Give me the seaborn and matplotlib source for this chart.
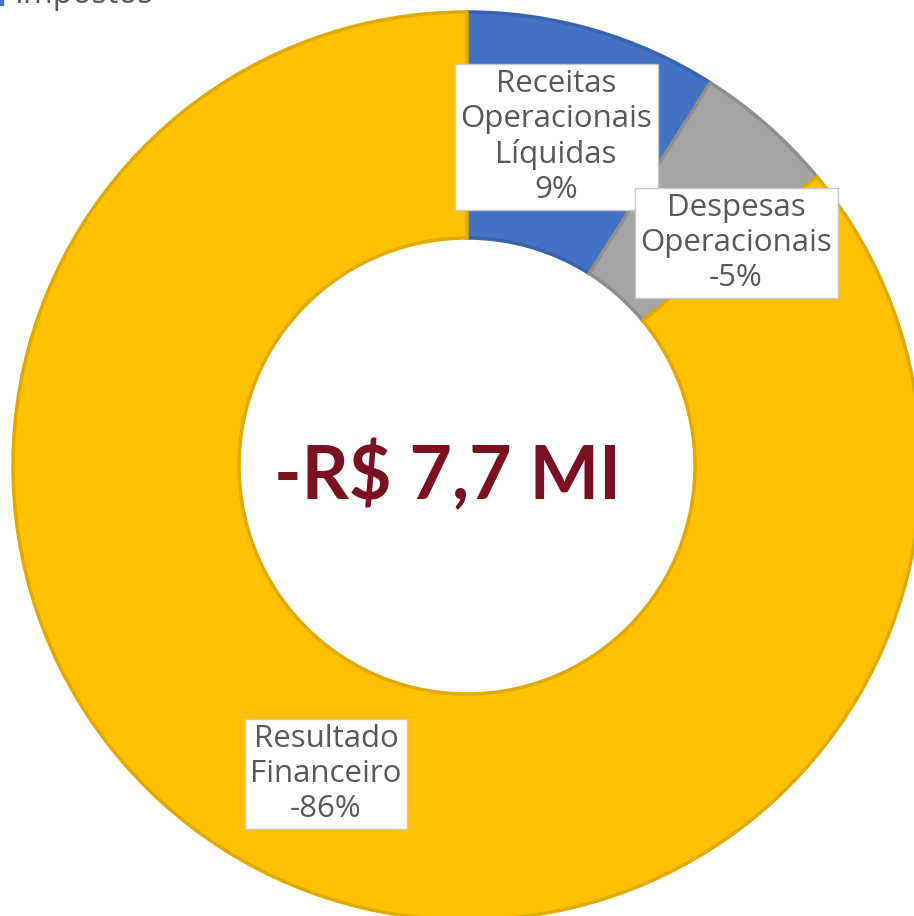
import matplotlib
matplotlib.use("Agg")
import matplotlib.pyplot as plt
import seaborn as sns

# chart data
categorias = ["Receitas\nOperacionais\nLíquidas", "Despesas\nOperacionais", "Resultado\nFinanceiro"]
percentuais = [9, -5, -86]
cores = ["#4472C4", "#A5A5A5", "#FFC000"]
bordas = ["#3A63AE", "#8F8F8F", "#E0AA00"]
total_txt = "-R$ 7,7 MI"
legenda_txt = "Impostos"

sns.set_theme(style="white")
plt.rcParams["font.family"] = ["Open Sans", "DejaVu Sans"]

fig = plt.figure(figsize=(9.14, 9.16), dpi=100)
ax = fig.add_axes([0, 0, 1, 1])
ax.set_xlim(0, 914)
ax.set_ylim(0, 916)
ax.set_aspect("equal")
ax.axis("off")

# donut (pixel-like data coords, center near upper left of the frame)
wedges, _ = ax.pie([abs(v) for v in percentuais], colors=cores, startangle=90,
                   counterclock=False, center=(467, 916 - 466), radius=454,
                   wedgeprops=dict(width=226, linewidth=2.5))
for w, ec in zip(wedges, bordas):
    w.set_edgecolor(ec)
ax.set_xlim(0, 914)
ax.set_ylim(0, 916)

# data labels
posicoes = [(556, 916 - 137), (736, 916 - 243), (326, 916 - 774)]
for nome, pct, (x, y) in zip(categorias, percentuais, posicoes):
    ax.text(x, y, f"{nome}\n{pct}%", ha="center", va="center", fontsize=22.5,
            color="#595959", linespacing=1.2,
            bbox=dict(boxstyle="square,pad=0.18", fc="white", ec="#C8C8C8", lw=1))

# central total
ax.text(447, 916 - 476, total_txt, ha="center", va="center", fontsize=53,
        fontweight="bold", color="#7B1020", family=["Lato", "DejaVu Sans"])

# cropped legend entry at top-left
fig.patches.append(plt.Rectangle((0, 1 - 5 / 916), 3 / 914, 5 / 916,
                                 transform=fig.transFigure, color="#4472C4"))
fig.text(15 / 914, 1 - 3 / 916, legenda_txt, ha="left", va="baseline",
         fontsize=23, color="#595959")

fig.savefig("out.png", dpi=100)
